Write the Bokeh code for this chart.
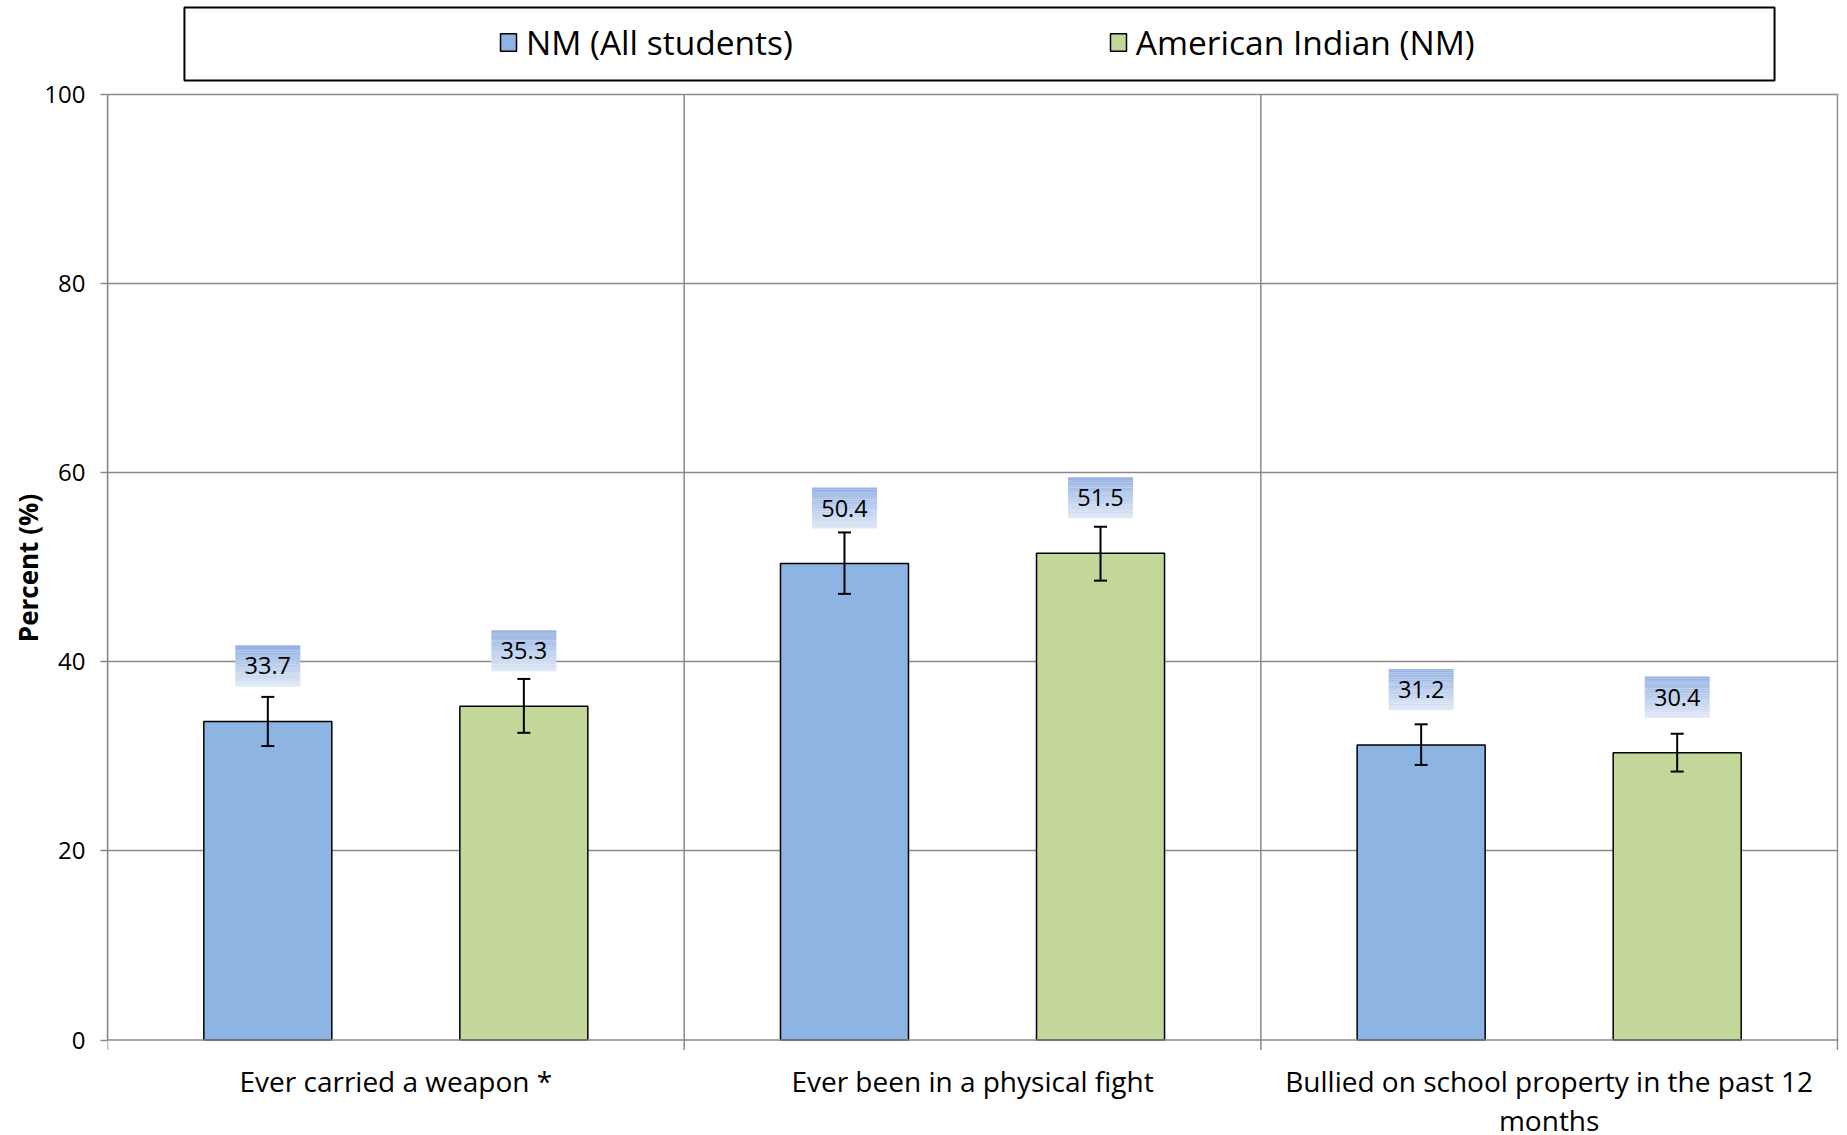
import numpy as np
from bokeh.plotting import figure
from bokeh.models import (Range1d, FixedTicker, ColumnDataSource, Whisker, TeeHead,
                          Legend, LegendItem, BoxAnnotation, Span)
from bokeh.core.properties import value
from bokeh.embed import file_html
from bokeh.resources import INLINE

# ---------------- data ----------------
categories = ["Ever carried a weapon *",
              "Ever been in a physical fight",
              "Bullied on school property in the past 12\nmonths"]
series_names = ["NM (All students)", "American Indian (NM)"]
nm_all = [33.7, 50.4, 31.2]
nm_all_lower = [31.1, 47.2, 29.1]
nm_all_upper = [36.3, 53.7, 33.4]
american_indian = [35.3, 51.5, 30.4]
american_indian_lower = [32.5, 48.6, 28.4]
american_indian_upper = [38.2, 54.3, 32.4]
y_ticks = [0, 20, 40, 60, 80, 100]

# ---------------- styles / layout ----------------
FONT = "Open Sans"
GRAY = "#8a8a8a"
BLUE = "#8eb4e3"
GREEN = "#c4d79b"
W, H = 1847, 1135
BL, BR = 107, 9
FW = W - BL - BR
PXY = 9.452                # px per y unit
Y0_FIG = 1039.5            # px of y=0 from figure top
Y_TOP = Y0_FIG / PXY
Y_BOT = -(H - Y0_FIG) / PXY
NCAT = len(categories)
PXX = FW / NCAT
OFFSET = 0.222
BAR_W = 0.222
TICK_PX = 10

p = figure(width=W, height=H, output_backend="svg", toolbar_location=None,
           x_axis_location=None,
           x_range=Range1d(-0.5, NCAT - 0.5 + 1.0 / PXX), y_range=Range1d(Y_BOT, Y_TOP),
           min_border_left=BL, min_border_right=BR, min_border_top=0,
           min_border_bottom=0)
p.outline_line_color = None
p.background_fill_color = "white"
p.xgrid.visible = False
p.ygrid.ticker = FixedTicker(ticks=y_ticks[1:])
p.ygrid.grid_line_color = GRAY
p.ygrid.grid_line_width = 1.5

# category axis: baseline, separators with ticks, labels
bounds = [i - 0.5 for i in range(NCAT + 1)]
p.segment(x0=bounds, y0=[-TICK_PX / PXY] * len(bounds), x1=bounds,
          y1=[100] * len(bounds), line_color=GRAY, line_width=1.5)
p.add_layout(Span(location=0, dimension="width", line_color=GRAY, line_width=1.5))
p.text(x=list(range(NCAT)), y=[0] * NCAT, text=categories, y_offset=22,
       text_font=value(FONT), text_font_size="28px", text_align="center",
       text_baseline="top", text_color="black", text_line_height=1.02)

# bars
xs_nm = [i - OFFSET for i in range(NCAT)]
xs_ai = [i + OFFSET for i in range(NCAT)]
r_nm = p.vbar(x=xs_nm, top=nm_all, width=BAR_W, fill_color=BLUE,
              line_color="black", line_width=1.5)
r_ai = p.vbar(x=xs_ai, top=american_indian, width=BAR_W, fill_color=GREEN,
              line_color="black", line_width=1.5)

# error bars
for xs, lo, hi in [(xs_nm, nm_all_lower, nm_all_upper),
                   (xs_ai, american_indian_lower, american_indian_upper)]:
    src = ColumnDataSource(dict(x=xs, lower=lo, upper=hi))
    w = Whisker(source=src, base="x", lower="lower", upper="upper",
                line_color="black", line_width=2, level="overlay",
                upper_head=TeeHead(size=13, line_width=2, line_color="black"),
                lower_head=TeeHead(size=13, line_width=2, line_color="black"))
    p.add_layout(w)

# data label boxes with a vertical gradient
def hex2rgb(h):
    return np.array([int(h[i:i + 2], 16) for i in (1, 3, 5)], dtype=float)

TOP_C, BOT_C = hex2rgb("#96b3e3"), hex2rgb("#dfe7f5")
NSTRIP = 24
BOX_W_PX, BOX_H_PX, GAP_PX = 65, 41, 35
ql, qr, qb, qt, qc = [], [], [], [], []
lx, ly = [], []
lt = []
for xs, vals in [(xs_nm, nm_all), (xs_ai, american_indian)]:
    for x, v in zip(xs, vals):
        b0 = v + GAP_PX / PXY
        hh = BOX_H_PX / PXY
        for k in range(NSTRIP):
            t = k / (NSTRIP - 1)
            c = BOT_C + (TOP_C - BOT_C) * t
            ql.append(x - BOX_W_PX / PXX / 2)
            qr.append(x + BOX_W_PX / PXX / 2)
            qb.append(b0 + hh * k / NSTRIP)
            qt.append(b0 + hh * (k + 1) / NSTRIP + 0.01)
            qc.append("#%02x%02x%02x" % tuple(int(round(u)) for u in c))
        lx.append(x)
        ly.append(v)
        lt.append(f"{v:.1f}")
p.quad(left=ql, right=qr, bottom=qb, top=qt, fill_color=qc, line_color=None)
p.text(x=lx, y=ly, text=lt, y_offset=-(GAP_PX + BOX_H_PX / 2),
       text_font=value(FONT), text_font_size="23.5px",
       text_align="center", text_baseline="middle", text_color="black")

# y axis
yax = p.yaxis[0]
yax.ticker = FixedTicker(ticks=y_ticks)
yax.bounds = (0, 100)
yax.axis_line_color = GRAY
yax.axis_line_width = 1.5
yax.major_tick_line_color = GRAY
yax.major_tick_line_width = 1.5
yax.major_tick_out = 7
yax.major_tick_in = 0
yax.minor_tick_line_color = None
yax.major_label_standoff = 15
yax.major_label_text_font = FONT
yax.major_label_text_font_size = "24px"
yax.major_label_text_color = "black"
yax.axis_label = "Percent (%)"
yax.axis_label_text_font = FONT
yax.axis_label_text_font_style = "bold"
yax.axis_label_text_font_size = "26px"
yax.axis_label_text_color = "black"
yax.axis_label_standoff = -5

# legend frame
LEG_L_PX, LEG_R_PX, LEG_T_PX, LEG_B_PX = 77, 1668, 7, 80
box = BoxAnnotation(left=-0.5 + LEG_L_PX / PXX, right=-0.5 + LEG_R_PX / PXX,
                    top=Y_TOP - LEG_T_PX / PXY, bottom=Y_TOP - LEG_B_PX / PXY,
                    fill_color="white", fill_alpha=1, line_color="black",
                    line_alpha=1, line_width=2)
p.add_layout(box)

legend = Legend(items=[LegendItem(label=series_names[0], renderers=[r_nm]),
                       LegendItem(label=series_names[1], renderers=[r_ai])],
                orientation="horizontal", location=(391, H - 65), spacing=315,
                padding=0, margin=0, glyph_width=20, glyph_height=22,
                label_standoff=8, label_text_font=FONT,
                label_text_font_size="33.5px", label_text_color="black",
                border_line_color=None, background_fill_alpha=0)
p.add_layout(legend, "center")

open("out.html", "w").write(file_html(p, INLINE))
